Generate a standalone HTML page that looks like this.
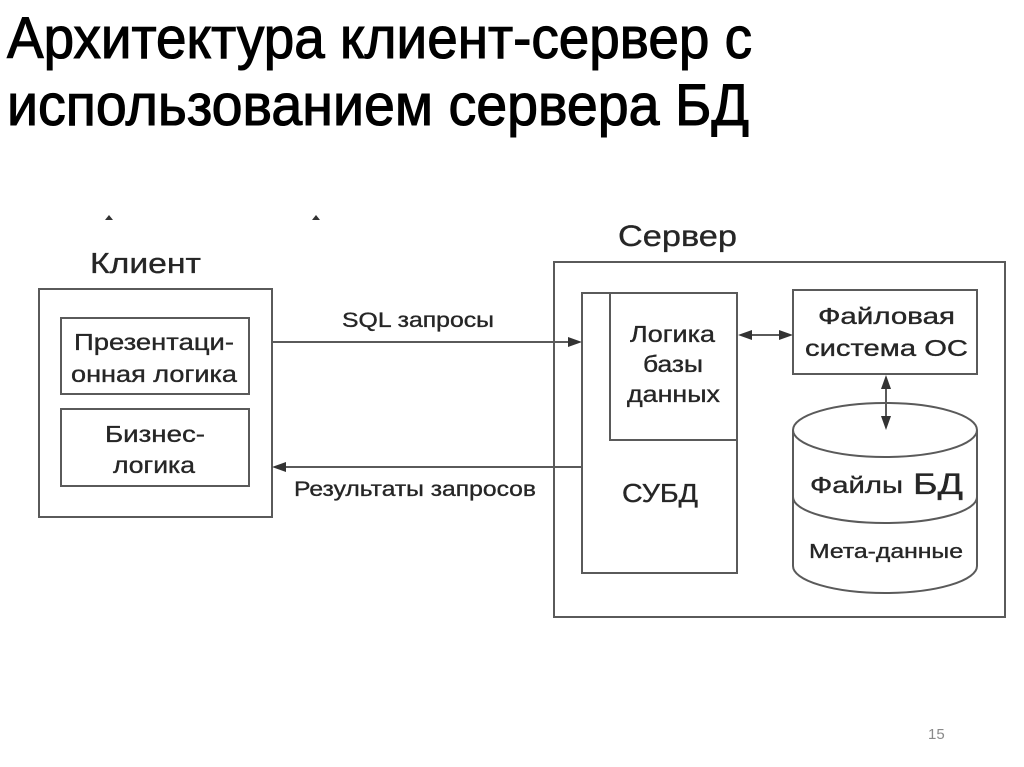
<!DOCTYPE html>
<html><head><meta charset="utf-8">
<style>
html,body{margin:0;padding:0;background:#fff;}
svg{display:block;}
text{font-family:"Liberation Sans","DejaVu Sans",sans-serif;fill:#262626;stroke:#262626;stroke-width:0.35;}
.t{font-family:"Liberation Sans","DejaVu Sans",sans-serif;fill:#000;stroke:#000;stroke-width:1.1;}
</style></head>
<body>
<svg width="1024" height="767" viewBox="0 0 1024 767" xmlns="http://www.w3.org/2000/svg">
<rect x="0" y="0" width="1024" height="767" fill="#fff"/>
<!-- title -->
<text class="t" x="7" y="58" font-size="58" textLength="745" lengthAdjust="spacingAndGlyphs">Архитектура клиент-сервер с</text>
<text class="t" x="7" y="125" font-size="58" textLength="742" lengthAdjust="spacingAndGlyphs">использованием сервера БД</text>

<!-- tiny marks -->
<polygon points="105,220 109,215 113,220" fill="#333"/>
<polygon points="312,220 316,215 320,220" fill="#333"/>

<g fill="none" stroke="#5a5a5a" stroke-width="2">
  <!-- client -->
  <rect x="39" y="289" width="233" height="228"/>
  <rect x="61" y="318" width="188" height="76"/>
  <rect x="61" y="409" width="188" height="77"/>
  <!-- server -->
  <rect x="554" y="262" width="451" height="355"/>
  <rect x="582" y="293" width="155" height="280"/>
  <rect x="610" y="293" width="127" height="147"/>
  <rect x="793" y="290" width="184" height="84"/>
  <!-- arrows lines -->
  <line x1="272" y1="342" x2="570" y2="342"/>
  <line x1="284" y1="467" x2="582" y2="467"/>
  <line x1="750" y1="335" x2="781" y2="335"/>
  <line x1="886" y1="387" x2="886" y2="418"/>
  <!-- cylinder -->
  <path d="M793,430 L793,566 A92,27 0 0 0 977,566 L977,430"/>
  <ellipse cx="885" cy="430" rx="92" ry="27"/>
  <path d="M793,497 A92,26 0 0 0 977,497"/>
</g>
<g fill="#333">
  <polygon points="582,342 568,337 568,347"/>
  <polygon points="272,467 286,462 286,472"/>
  <polygon points="738,335 752,330 752,340"/>
  <polygon points="793,335 779,330 779,340"/>
  <polygon points="886,375 881,389 891,389"/>
  <polygon points="886,430 881,416 891,416"/>
</g>

<!-- labels -->
<text x="90" y="273" font-size="29" textLength="111" lengthAdjust="spacingAndGlyphs">Клиент</text>
<text x="618" y="246" font-size="30" textLength="119" lengthAdjust="spacingAndGlyphs">Сервер</text>
<text x="74" y="350" font-size="23" textLength="160" lengthAdjust="spacingAndGlyphs">Презентаци-</text>
<text x="71" y="382" font-size="23" textLength="166" lengthAdjust="spacingAndGlyphs">онная логика</text>
<text x="105" y="442" font-size="23" textLength="100" lengthAdjust="spacingAndGlyphs">Бизнес-</text>
<text x="113" y="473" font-size="23" textLength="82" lengthAdjust="spacingAndGlyphs">логика</text>
<text x="342" y="327" font-size="21" textLength="152" lengthAdjust="spacingAndGlyphs">SQL запросы</text>
<text x="294" y="496" font-size="21" textLength="242" lengthAdjust="spacingAndGlyphs">Результаты запросов</text>
<text x="630" y="342" font-size="23" textLength="85" lengthAdjust="spacingAndGlyphs">Логика</text>
<text x="643" y="372" font-size="23" textLength="60" lengthAdjust="spacingAndGlyphs">базы</text>
<text x="627" y="402" font-size="23" textLength="93" lengthAdjust="spacingAndGlyphs">данных</text>
<text x="622" y="502" font-size="26" textLength="76" lengthAdjust="spacingAndGlyphs">СУБД</text>
<text x="818" y="324" font-size="23" textLength="137" lengthAdjust="spacingAndGlyphs">Файловая</text>
<text x="805" y="356" font-size="23" textLength="163" lengthAdjust="spacingAndGlyphs">система ОС</text>
<text x="810" y="493" font-size="23" textLength="93" lengthAdjust="spacingAndGlyphs">Файлы</text>
<text x="913" y="494" font-size="30" textLength="50" lengthAdjust="spacingAndGlyphs">БД</text>
<text x="809" y="558" font-size="20" textLength="154" lengthAdjust="spacingAndGlyphs">Мета-данные</text>

<text x="928" y="739" font-size="15" style="fill:#8a8a8a;stroke:none">15</text>
</svg>
</body></html>
